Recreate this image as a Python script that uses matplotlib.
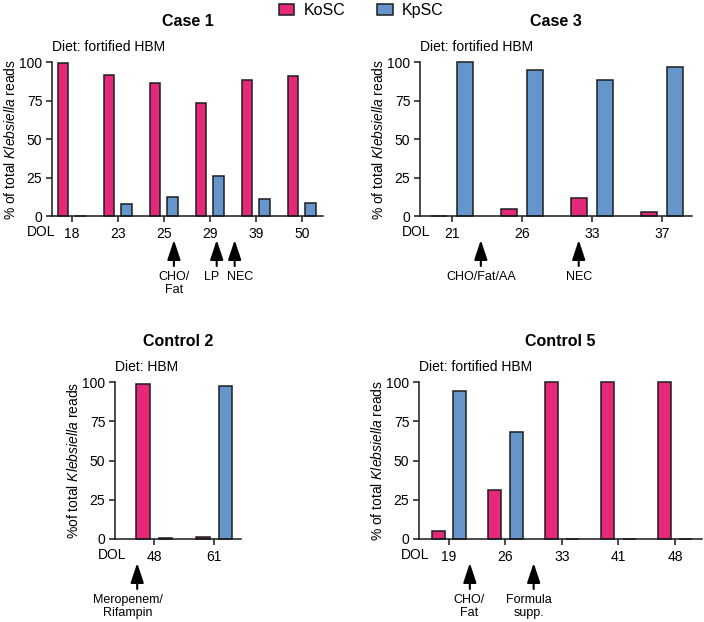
import matplotlib
matplotlib.use('Agg')
import matplotlib.pyplot as plt
from matplotlib.patches import Patch
import numpy as np

plt.rcParams['font.family'] = ['Liberation Sans', 'DejaVu Sans']
plt.rcParams['mathtext.fontset'] = 'custom'
plt.rcParams['mathtext.rm'] = 'Liberation Sans'
plt.rcParams['mathtext.it'] = 'Liberation Sans:italic'

series_names = ['KoSC', 'KpSC']

case1_days = ['18', '23', '25', '29', '39', '50']
case1_kosc = [99.5, 91.5, 86.5, 73.5, 88.5, 91.0]
case1_kpsc = [0.0, 8.0, 12.5, 26.0, 11.0, 8.5]
# (arrow position, label, label position) in category-index units
case1_events = [(2.22, 'CHO/\nFat', 2.22), (3.15, 'LP', 3.05), (3.54, 'NEC', 3.65)]

case3_days = ['21', '26', '33', '37']
case3_kosc = [0.0, 4.5, 11.5, 2.5]
case3_kpsc = [99.8, 95.0, 88.0, 97.0]
case3_events = [(0.41, 'CHO/Fat/AA', 0.41), (1.81, 'NEC', 1.81)]

ctrl2_days = ['48', '61']
ctrl2_kosc = [98.5, 1.5]
ctrl2_kpsc = [0.8, 97.5]
ctrl2_events = [(-0.28, 'Meropenem/\nRifampin', -0.43)]

ctrl5_days = ['19', '26', '33', '41', '48']
ctrl5_kosc = [5.0, 31.5, 100.0, 100.0, 100.0]
ctrl5_kpsc = [94.0, 68.0, 0.0, 0.0, 0.0]
ctrl5_events = [(0.37, 'CHO/\nFat', 0.35), (1.5, 'Formula\nsupp.', 1.42)]

yticks = [0, 25, 50, 75, 100]

PINK = '#E6287A'
BLUE = '#6596CB'
EDGE = '#1e1e1e'

W, H = 704, 622
fig = plt.figure(figsize=(W / 100, H / 100), dpi=100)


def rect(l, t, r, b):
    return [l / W, 1 - b / H, (r - l) / W, (b - t) / H]


ylab = '% of total $\\mathit{Klebsiella}$ reads'
panels = [
    dict(title='Case 1', diet='Diet: fortified HBM', days=case1_days, ko=case1_kosc, kp=case1_kpsc,
         ev=case1_events, box=(52, 62, 323, 216), xlim=(-0.43, 5.46), dol=-0.67, ylabel=ylab),
    dict(title='Case 3', diet='Diet: fortified HBM', days=case3_days, ko=case3_kosc, kp=case3_kpsc,
         ev=case3_events, box=(420, 62, 692, 216), xlim=(-0.46, 3.43), dol=-0.51, ylabel=ylab),
    dict(title='Control 2', diet='Diet: HBM', days=ctrl2_days, ko=ctrl2_kosc, kp=ctrl2_kpsc,
         ev=ctrl2_events, box=(115, 382, 241, 539), xlim=(-0.65, 1.45), dol=-0.69,
         ylabel='%of total $\\mathit{Klebsiella}$ reads'),
    dict(title='Control 5', diet='Diet: fortified HBM', days=ctrl5_days, ko=ctrl5_kosc, kp=ctrl5_kpsc,
         ev=ctrl5_events, box=(419, 382, 702, 539), xlim=(-0.53, 4.48), dol=-0.6, ylabel=ylab),
]

bw = 0.23
off = 0.19
for p in panels:
    l, t, r, b = p['box']
    hpx = b - t
    ax = fig.add_axes(rect(l, t, r, b))
    x = np.arange(len(p['days']))
    ax.bar(x - off, p['ko'], bw, color=PINK, edgecolor=EDGE, linewidth=1.1, clip_on=False, zorder=3)
    ax.bar(x + off, p['kp'], bw, color=BLUE, edgecolor=EDGE, linewidth=1.1, clip_on=False, zorder=3)
    ax.set_xlim(*p['xlim'])
    ax.set_ylim(0, 100)
    ax.set_yticks(yticks)
    ax.set_xticks(x)
    ax.set_xticklabels(p['days'])
    for s in ['top', 'right']:
        ax.spines[s].set_visible(False)
    for s in ['left', 'bottom']:
        ax.spines[s].set_linewidth(1.1)
        ax.spines[s].set_color('#1a1a1a')
        ax.spines[s].set_zorder(4)
    ax.tick_params(axis='both', length=4, width=1.1, labelsize=10, color='#1a1a1a')
    ax.tick_params(axis='y', pad=3)
    ax.tick_params(axis='x', pad=4)
    ax.set_ylabel(p['ylabel'], fontsize=10, labelpad=1)
    ax.set_title(p['title'], fontsize=11.5, fontweight='bold', pad=26)
    ax.text(0.0, 1 + 15 / hpx, p['diet'], transform=ax.transAxes, ha='left', va='center', fontsize=10)
    xt = ax.get_xaxis_transform()
    ax.text(p['dol'], -16 / hpx, 'DOL', transform=xt, ha='center', va='center', fontsize=10)
    for ex, lab, tx in p['ev']:
        ax.annotate('', xy=(ex, -24 / hpx), xycoords=xt, xytext=(ex, -50 / hpx), textcoords=xt,
                    arrowprops=dict(arrowstyle='-|>,head_width=0.4,head_length=1.2', color='black',
                                    lw=1.5, mutation_scale=10, shrinkA=0, shrinkB=0),
                    annotation_clip=False)
        ax.text(tx, -55 / hpx, lab, transform=xt, ha='center', va='top', fontsize=9, linespacing=1.1)

handles = [Patch(facecolor=PINK, edgecolor=EDGE, linewidth=1.1),
           Patch(facecolor=BLUE, edgecolor=EDGE, linewidth=1.1)]
fig.legend(handles, series_names, loc='upper center', bbox_to_anchor=(0.5135, 1.01), ncol=2,
           frameon=False, fontsize=11.5, handlelength=0.95, handleheight=0.65, handletextpad=0.6,
           columnspacing=2.0, borderpad=0.1)

fig.savefig('out.png', dpi=100)
